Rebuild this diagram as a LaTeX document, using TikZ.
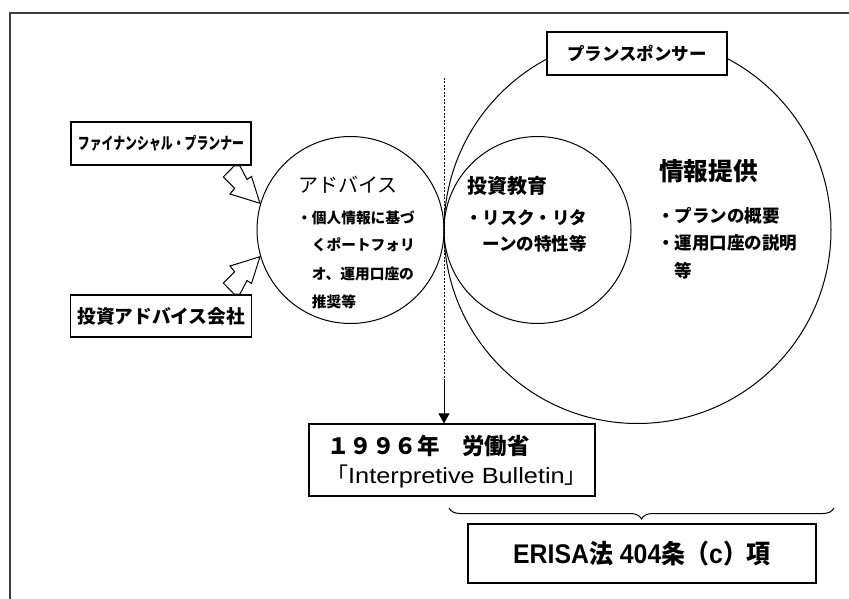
\documentclass[tikz,border=0pt]{standalone}
\usepackage{fontspec}
\setmainfont{Liberation Sans}
\newfontfamily\jp{Noto Sans CJK JP}
\newfontfamily\lat{Liberation Sans}
\usetikzlibrary{arrows.meta,decorations.pathreplacing}
\newcommand\setsz[1]{\fontsize{#1pt}{#1pt}\selectfont}
\begin{document}
\begin{tikzpicture}[x=1pt,y=-1pt,
  box/.style={draw, line width=1.2pt, fill=white, inner sep=0pt},
  ring/.style={draw, circle, line width=1pt, inner sep=0pt},
  t/.style={anchor=west, inner sep=0pt},
  blockarrow/.style={draw, line width=1pt, fill=white, line join=miter}]
\useasboundingbox (0,0) rectangle (849,599);
% frame
\draw[line width=1.5pt, black!75] (10,599) -- (10,13) -- (849,13);
% circles
\node[ring, minimum size=387pt] (spon) at (637.5,230) {};
\node[ring, minimum size=187pt] (edu) at (537.5,230) {};
\node[ring, minimum size=187pt] (adv) at (350.5,230) {};
% boxes
\node[box, minimum width=180pt, minimum height=43pt] (fp) at (161,143.5)
  {\scalebox{0.72}[1]{\jp\bfseries\setsz{16.5}ファイナンシャル・プランナー}};
\node[box, minimum width=181pt, minimum height=42pt] (ia) at (161.2,316)
  {\jp\bfseries\setsz{18.7}投資アドバイス会社};
\node[box, minimum width=180pt, minimum height=43pt] (ps) at (637,53.5)
  {\jp\bfseries\setsz{17.5}プランスポンサー};
\node[box, minimum width=286pt, minimum height=72pt] (ib) at (452,460) {};
\node[box, minimum width=348pt, minimum height=59pt] (erisa) at (642,553.5)
  {\scalebox{0.92}[1]{\lat\bfseries\setsz{27}ERISA{\jp\setsz{26}法} 404{\jp\setsz{26}条（}c{\jp\setsz{26}）項}}};
% block arrows
\draw[blockarrow] (234,166) -- (223.3,177) -- (234.7,188.3) -- (230,194) -- (260,203.3)
  -- (251.5,176.5) -- (247,179.5) -- (240,166) -- cycle;
\draw[blockarrow] (234,294) -- (223.3,283) -- (234.7,271.7) -- (230,266) -- (260,256.7)
  -- (251.5,283.5) -- (247,280.5) -- (240,294) -- cycle;
% advice texts
\node[t] (a0) at (298,185) {\jp\setsz{20}アドバイス};
\node[t] (a1) at (297,218) {\jp\bfseries\setsz{14.7}・個人情報に基づ};
\node[t] (a2) at (311.7,245) {\jp\bfseries\setsz{14.7}くポートフォリ};
\node[t] (a3) at (311.7,274) {\jp\bfseries\setsz{14.7}オ、運用口座の};
\node[t] (a4) at (311.7,302) {\jp\bfseries\setsz{14.7}推奨等};
% education texts
\node[t] (e0) at (467,186) {\jp\bfseries\setsz{20}投資教育};
\node[t] (e1) at (465,217.5) {\jp\bfseries\setsz{17.5}・リスク・リタ};
\node[t] (e2) at (482.5,244) {\jp\bfseries\setsz{17.5}ーンの特性等};
% info texts
\node[t] (i0) at (659,171) {\jp\bfseries\setsz{24.6}情報提供};
\node[t] (i1) at (657,216) {\jp\bfseries\setsz{17.5}・プランの概要};
\node[t] (i2) at (657,243) {\jp\bfseries\setsz{17.5}・運用口座の説明};
\node[t] (i3) at (674.5,271) {\jp\bfseries\setsz{17.5}等};
% bulletin texts
\node[t] (b1) at (327,445.5) {\jp\bfseries\setsz{22.5}１９９６年　労働省};
\node[t] (b2) at (326,476) {{\jp\setsz{22}「}\scalebox{1.15}[1]{\lat\setsz{22}Interpretive Bulletin}{\jp\setsz{22}」}};
% dashed line with arrow
\coordinate (top) at (444,78);
\coordinate (mid) at (444,380);
\draw[line width=0.9pt, dash pattern=on 2pt off 1.5pt] (top) -- (mid);
\draw[line width=0.9pt, -{Triangle[length=10pt,width=11pt]}] (mid) -- (top |- ib.north);
% brace
\coordinate (bl) at (449,508);
\coordinate (br) at (834,508);
\draw[line width=1pt, decorate, decoration={brace, mirror, amplitude=11pt}] (bl) -- (br);
\end{tikzpicture}
\end{document}
